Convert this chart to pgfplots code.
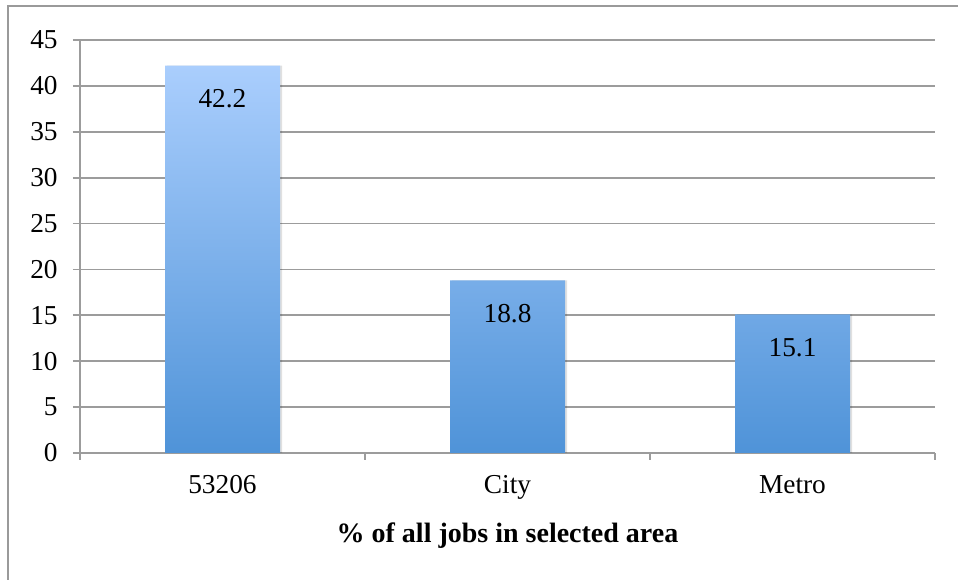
\documentclass[border=0pt]{standalone}
\usepackage{pgfplots}
\pgfplotsset{compat=1.18}
\usepackage{fontspec}
\setmainfont{Liberation Serif}
\definecolor{gridgray}{HTML}{9C9C9C}
\definecolor{frame}{HTML}{9A9A9A}
\definecolor{bartop}{HTML}{AACEFD}
\definecolor{barbot}{HTML}{4F93D8}
\begin{document}
\begin{tikzpicture}[x=0.75pt,y=0.75pt]
\useasboundingbox (0,0) rectangle (958,580);
\draw[frame, line width=1.3pt] (8,-2) -- (8,574) -- (960,574);
\begin{axis}[
  at={(60pt,95.25pt)}, anchor=south west,
  scale only axis,
  width=641.25pt, height=309.75pt,
  xmin=-0.5, xmax=2.5, ymin=0, ymax=45,
  ytick={0,5,...,45},
  xtick={0,1,2},
  xticklabels={53206,City,Metro},
  extra x ticks={-0.5,0.5,1.5,2.5},
  extra x tick labels={},
  extra x tick style={major tick length=5.25pt, xtick style={draw=gridgray, line width=1.4pt}},
  xtick style={draw=none},
  ytick style={draw=gridgray, line width=1.4pt},
  major tick length=5.25pt,
  tick align=outside,
  axis x line*=bottom, axis y line*=left,
  axis line style={draw=gridgray, line width=1.4pt, -},
  ymajorgrids, grid style={draw=gridgray, line width=1.4pt},
  font=\fontsize{20.5}{24}\selectfont,
  ticklabel style={font=\fontsize{20.5}{24}\selectfont},
  /pgf/number format/assume math mode=true,
  xticklabel style={yshift=-8pt},
  yticklabel style={xshift=-8pt},
  xlabel={\bfseries\% of all jobs in selected area},
  xlabel style={font=\fontsize{21}{24}\selectfont\bfseries, yshift=0pt},
  ybar, bar width=86.25pt, bar shift=0pt,
  nodes near coords,
  nodes near coords style={anchor=center, yshift=-24.75pt, font=\fontsize{20.5}{24}\selectfont, /pgf/number format/fixed, /pgf/number format/precision=1, /pgf/number format/fixed zerofill},
  clip=false,
]
\addplot[draw=none, fill=black, fill opacity=0.12, bar shift=1.6pt, nodes near coords={}] coordinates {(0,42.2) (1,18.8) (2,15.1)};
\addplot[draw=none, top color=bartop, bottom color=barbot] coordinates {(0,42.2) (1,18.8) (2,15.1)};
\end{axis}
\end{tikzpicture}
\end{document}
